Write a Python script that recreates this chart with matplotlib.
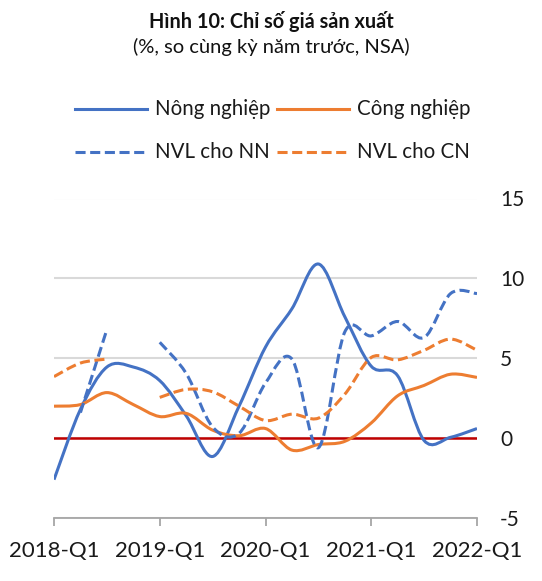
import numpy as np
import matplotlib.pyplot as plt
from matplotlib.path import Path
from matplotlib.patches import PathPatch
from matplotlib.lines import Line2D

plt.rcParams['font.family'] = ['Lato', 'DejaVu Sans']

# quý 2018-Q1 .. 2022-Q1
quarters = ['2018-Q1', '2018-Q2', '2018-Q3', '2018-Q4',
            '2019-Q1', '2019-Q2', '2019-Q3', '2019-Q4',
            '2020-Q1', '2020-Q2', '2020-Q3', '2020-Q4',
            '2021-Q1', '2021-Q2', '2021-Q3', '2021-Q4',
            '2022-Q1']
tick_labels = ['2018-Q1', '2019-Q1', '2020-Q1', '2021-Q1', '2022-Q1']
y_labels = ['-5', '0', '5', '10', '15']

nan = np.nan
nong_nghiep = [-2.6, 1.8, 4.45, 4.45, 3.6, 1.4, -1.15, 2.0, 5.7, 8.1,
               10.9, 7.6, 4.5, 3.9, -0.15, 0.05, 0.6]
cong_nghiep = [2.0, 2.1, 2.85, 2.1, 1.35, 1.55, 0.5, 0.15, 0.6, -0.75,
               -0.4, -0.2, 0.95, 2.65, 3.3, 4.0, 3.8]
nvl_nn = [nan, 1.6, 6.8, nan, 6.0, 4.05, 0.7, 0.3, 3.45, 4.95,
          -0.6, 6.65, 6.4, 7.3, 6.3, 9.05, 9.05]
nvl_cn = [3.85, 4.7, 4.95, nan, 2.55, 3.05, 2.9, 2.0, 1.1, 1.5,
          1.25, 2.75, 5.05, 4.9, 5.5, 6.2, 5.5]

BLUE = '#4472C4'
ORANGE = '#ED7D31'
DASH = (0, (3.3, 1.5))
TXT = '#1a1a1a'


def smooth_path(x, y):
    """Đường cong kiểu Excel (Catmull-Rom -> Bezier), bỏ qua điểm trống."""
    x = np.asarray(x, float)
    y = np.asarray(y, float)
    verts, codes = [], []
    runs, cur = [], []
    for i in range(len(y)):
        if np.isnan(y[i]):
            if cur:
                runs.append(cur)
            cur = []
        else:
            cur.append(i)
    if cur:
        runs.append(cur)
    for run in runs:
        px, py = x[run], y[run]
        n = len(px)
        if n < 2:
            continue
        verts.append((px[0], py[0]))
        codes.append(Path.MOVETO)
        for k in range(n - 1):
            a = k - 1 if k > 0 else k
            b = k + 2 if k + 2 < n else k + 1
            c1 = (px[k] + (px[k + 1] - px[a]) / 6, py[k] + (py[k + 1] - py[a]) / 6)
            c2 = (px[k + 1] - (px[b] - px[k]) / 6, py[k + 1] - (py[b] - py[k]) / 6)
            verts += [c1, c2, (px[k + 1], py[k + 1])]
            codes += [Path.CURVE4] * 3
    return Path(verts, codes)


fig = plt.figure(figsize=(5.42, 5.81), dpi=100)
ax = fig.add_axes([54 / 542, 1 - 518 / 581, 423 / 542, 319.5 / 581])

x = np.arange(len(quarters))

ax.axhline(0, color='#C00000', lw=1.8, zorder=2)

series = [
    (nong_nghiep, BLUE, '-'),
    (cong_nghiep, ORANGE, '-'),
    (nvl_nn, BLUE, DASH),
    (nvl_cn, ORANGE, DASH),
]
for vals, col, ls in series:
    patch = PathPatch(smooth_path(x, vals), fill=False, edgecolor=col,
                      lw=2.2, linestyle=ls, capstyle='butt', joinstyle='round',
                      zorder=3)
    ax.add_patch(patch)

ax.set_xlim(0, 16)
ax.set_ylim(-5, 15)
ax.set_xticks([0, 4, 8, 12, 16])
ax.set_xticklabels(tick_labels, fontsize=16, color=TXT)
ax.set_yticks([-5, 0, 5, 10, 15])
ax.set_yticklabels(y_labels, fontsize=15, color=TXT)
ax.yaxis.tick_right()
ax.tick_params(axis='y', length=0, pad=16.5)
ax.tick_params(axis='x', length=5.8, width=1.3, color='#A6A6A6', pad=11)

for s in ['top', 'left', 'right']:
    ax.spines[s].set_visible(False)
ax.spines['bottom'].set_color('#A6A6A6')
ax.spines['bottom'].set_linewidth(1.3)

ax.yaxis.grid(True, color='#D9D9D9', lw=1.5)
ax.set_axisbelow(True)

fig.text(0.5, 1 - 28.3 / 581, 'Hình 10: Chỉ số giá sản xuất', ha='center', va='baseline',
         fontsize=14.3, fontweight='bold', color='#111111')
fig.text(0.5, 1 - 53.3 / 581, '(%, so cùng kỳ năm trước, NSA)', ha='center', va='baseline',
         fontsize=14.5, color='#111111')

# chú thích
legend_items = [
    ('Nông nghiệp', BLUE, '-', 75, 109, 115),
    ('Công nghiệp', ORANGE, '-', 277, 109, 115),
    ('NVL cho NN', BLUE, DASH, 75, 151.5, 158.3),
    ('NVL cho CN', ORANGE, DASH, 277, 151.5, 158.3),
]
for label, col, ls, x0, yl, yb in legend_items:
    yy = 1 - yl / 581
    fig.add_artist(Line2D([x0 / 542, (x0 + 72) / 542], [yy, yy], color=col,
                          lw=2.2, ls=ls, transform=fig.transFigure))
    fig.text((x0 + 80) / 542, 1 - yb / 581, label, ha='left', va='baseline',
             fontsize=14.8, color=TXT)

fig.savefig('out.png', dpi=100)
